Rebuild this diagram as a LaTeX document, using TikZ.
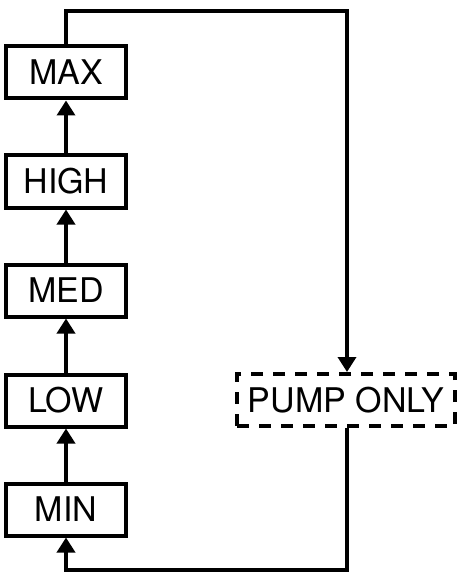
\documentclass[tikz,border=0pt]{standalone}
\usepackage{fontspec}
\setmainfont{TeX Gyre Heros}
\usetikzlibrary{arrows.meta}
\begin{document}
\begin{tikzpicture}[x=1pt,y=-1pt,
  lvl/.style={draw,line width=4pt,minimum width=120pt,minimum height=52pt,inner sep=0pt,font=\fontsize{34}{36}\selectfont},
  pbox/.style={draw,line width=4pt,dash pattern=on 12pt off 10pt,minimum width=218pt,minimum height=52pt,inner sep=0pt,font=\fontsize{34}{36}\selectfont},
  conn/.style={line width=3.5pt,-{Triangle[width=18pt,length=15pt]}},
  wire/.style={line width=3.5pt}]
\useasboundingbox (0,0) rectangle (464,585);
\node[lvl] (max) at (66,72.5) {MAX};
\node[lvl] (high) at (66,181.5) {HIGH};
\node[lvl] (med) at (66,290.5) {MED};
\node[lvl] (low) at (66,400.5) {LOW};
\node[lvl] (min) at (66,509.5) {MIN};
\node[pbox] (pump) at (346,400) {PUMP ONLY};
\coordinate (tl) at (66,11);
\coordinate (tr) at (347,11);
\coordinate (bl) at (66,570);
\coordinate (br) at (347,570);
\draw[conn] (min.north) -- (low.south);
\draw[conn] (low.north) -- (med.south);
\draw[conn] (med.north) -- (high.south);
\draw[conn] (high.north) -- (max.south);
\draw[conn] (max.north) -- (tl) -- (tr) -- (tr |- pump.north);
\draw[conn] (br |- pump.south) -- (br) -- (bl) -- (min.south);
\end{tikzpicture}
\end{document}
